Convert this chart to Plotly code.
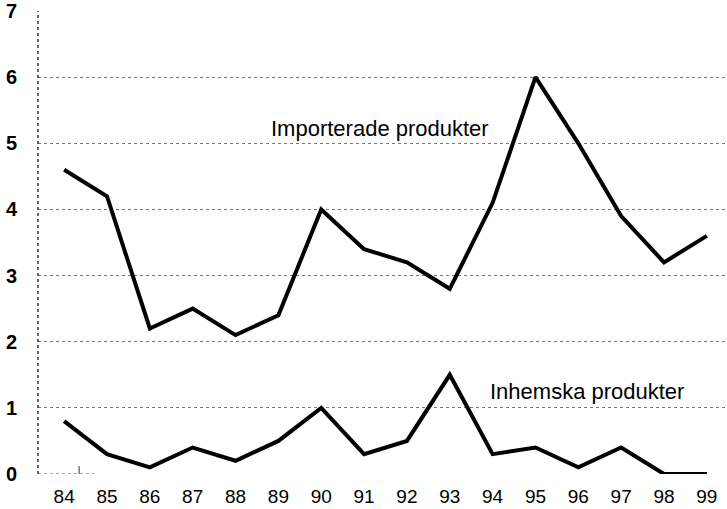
import plotly.graph_objects as go

years = list(range(84, 100))
year_labels = [str(y) for y in years]
importerade = [4.6, 4.2, 2.2, 2.5, 2.1, 2.4, 4.0, 3.4, 3.2, 2.8, 4.1, 6.0, 5.0, 3.9, 3.2, 3.6]
inhemska = [0.8, 0.3, 0.1, 0.4, 0.2, 0.5, 1.0, 0.3, 0.5, 1.5, 0.3, 0.4, 0.1, 0.4, 0.0, 0.0]
y_ticks = list(range(0, 8))
y_labels = ["<b>%d</b>" % v for v in y_ticks]

font = "Liberation Sans, Arial, sans-serif"

fig = go.Figure()
fig.add_trace(go.Scatter(x=years, y=importerade, mode="lines",
                         line=dict(color="black", width=4), showlegend=False))
fig.add_trace(go.Scatter(x=years, y=inhemska, mode="lines",
                         line=dict(color="black", width=4), showlegend=False))

fig.add_annotation(x=91.37, y=5.22, text="Importerade produkter", showarrow=False,
                   font=dict(family=font, size=22, color="black"))
fig.add_annotation(x=96.2, y=1.24, text="Inhemska produkter", showarrow=False,
                   font=dict(family=font, size=22, color="black"))

# short baseline stub with a tick near the origin
fig.add_shape(type="line", xref="x", yref="y", x0=83.39, x1=84.7, y0=0, y1=0,
              line=dict(color="#555", width=1, dash="dot"))
fig.add_shape(type="line", xref="x", yref="y", x0=84.35, x1=84.35, y0=0, y1=0.12,
              line=dict(color="#333", width=1))

fig.update_layout(
    width=727, height=509,
    margin=dict(l=38, r=0, t=11, b=35),
    paper_bgcolor="white", plot_bgcolor="white",
    font=dict(family=font, color="black"),
    xaxis=dict(range=[83.39, 99.47], tickvals=years, ticktext=year_labels,
               showgrid=False, zeroline=False, showline=False, ticks="",
               tickfont=dict(size=19), ticklabelstandoff=9),
    yaxis=dict(range=[0, 7], tickvals=y_ticks, ticktext=y_labels, showgrid=True,
               gridcolor="#777", griddash="dot", gridwidth=1,
               zeroline=False, showline=False,
               ticks="", tickfont=dict(size=20), ticklabelstandoff=20),
)
fig.add_shape(type="line", xref="paper", yref="paper", x0=0, x1=0, y0=0, y1=1,
              line=dict(color="#333", width=1.5, dash="dot"))

fig.write_html("out.html")
